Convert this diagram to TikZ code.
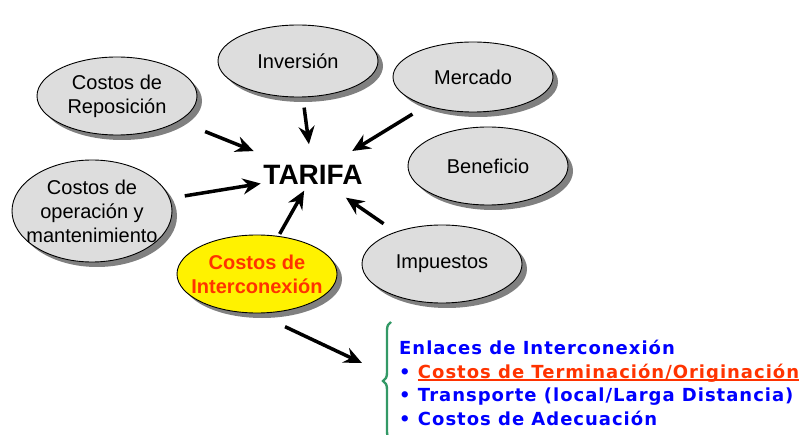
\documentclass[tikz,border=0pt]{standalone}
\usepackage{fontspec}
\setmainfont{Liberation Sans}
\newfontfamily\verdfont[LetterSpace=5.5]{DejaVu Sans}
\usetikzlibrary{shapes.geometric,shadows,arrows.meta,decorations.pathreplacing}
\definecolor{elgray}{HTML}{DDDDDD}
\definecolor{shgray}{HTML}{808080}
\definecolor{intred}{HTML}{FF3300}
\definecolor{lnkblue}{HTML}{0000FF}
\definecolor{brgreen}{HTML}{339966}
\newcommand{\ulred}[1]{\setbox0\hbox{#1}\rlap{\rule[-3pt]{\wd0}{1.6pt}}\box0}
\tikzset{
  elli/.style={ellipse,draw=black,line width=0.9pt,fill=elgray,minimum width=160pt,
    inner xsep=-14pt,inner ysep=0pt,align=center,font=\fontsize{20}{24}\selectfont,
    drop shadow={shadow xshift=5pt,shadow yshift=-5pt,fill=shgray,opacity=1}},
  arr/.style={line width=3.5pt,-{Stealth[length=18pt,width=16pt,inset=6pt]}},
}

\begin{document}
\begin{tikzpicture}[x=1pt,y=-1pt]
         \useasboundingbox (0,0) rectangle (805,435);
         \node[font=\bfseries\fontsize{28}{30}\selectfont,inner sep=0pt,name=tarifa] at (313,175) {TARIFA};
         \node[elli,minimum height=72pt,name=inv] at (298,61) {Inversión};
         \node[elli,minimum height=78pt,name=rep] at (117,96) {Costos de\\Reposición};
         \node[elli,minimum height=70pt,name=mer] at (473,77) {Mercado};
         \node[elli,minimum height=78pt,name=ben] at (488,166) {Beneficio};
         \node[elli,minimum height=102pt,name=op] at (92,211) {Costos de\\operación y\\mantenimiento};
         \node[elli,minimum height=78pt,name=imp] at (442,264) {Impuestos};
         \node[elli,minimum height=78pt,fill=yellow,text=intred,font=\bfseries\fontsize{20}{24}\selectfont,name=int] at (257,274) {Costos de\\Interconexión};
         \node[anchor=north west,align=left,inner sep=0pt,text=lnkblue,
               font=\verdfont\bfseries\fontsize{18}{23.5}\selectfont,name=enl] at (399,340)
               {Enlaces de Interconexión\\
                • \textcolor{intred}{\ulred{Costos de Terminación/Originación}}\\
                • Transporte (local/Larga Distancia)\\
                • Costos de Adecuación};
         \coordinate (lnk) at (362,363);

         \path[arr]
            (rep.center) edge[shorten <=95pt,shorten >=64pt] (tarifa.center)
            (inv.center) edge[shorten <=47pt,shorten >=31pt] (tarifa.center)
            (mer.center) edge[shorten <=71pt,shorten >=46pt] (tarifa.center)
            (op.center)  edge[shorten <=94pt,shorten >=53pt] (tarifa.center)
            (int.center) edge[shorten <=46pt,shorten >=18pt] (tarifa.center)
            (imp.center) edge[shorten <=71pt,shorten >=40pt] (tarifa.center)
            (int.south)  edge[shorten <=31pt] (lnk);

         \draw[brgreen,line width=2.4pt,decorate,decoration={brace,amplitude=8pt}]
            (391,440) -- (391,322);
      \end{tikzpicture}
\end{document}
